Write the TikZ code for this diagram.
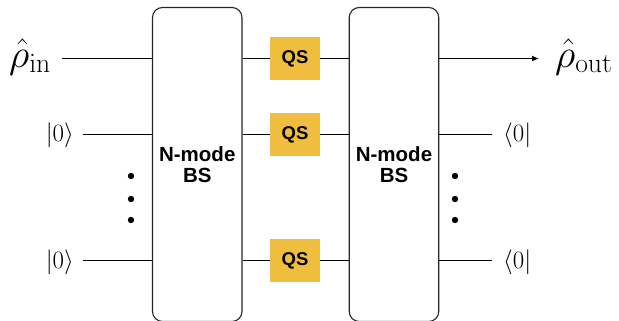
\documentclass[tikz,border=0pt]{standalone}
\usepackage[no-math]{fontspec}
\newfontfamily\lsans{Liberation Sans}
\usetikzlibrary{arrows.meta}
\definecolor{qsyellow}{HTML}{F0BE3E}
\begin{document}
\begin{tikzpicture}[x=1pt,y=-1pt,
  wire/.style={line width=1.1pt,draw=black},
  bsbox/.style={draw=black!85,line width=1.1pt,rounded corners=10pt,minimum width=89.5pt,minimum height=314pt,inner sep=0pt,align=center,font=\lsans\bfseries\fontsize{20.5}{22}\selectfont},
  qsbox/.style={fill=qsyellow,minimum width=50pt,minimum height=43pt,inner sep=0pt,font=\lsans\bfseries\fontsize{18.5}{20}\selectfont},
  ketlabel/.style={inner sep=0pt,font=\fontsize{24}{28}\selectfont},
  rholabel/.style={inner sep=0pt,font=\fontsize{24}{28}\selectfont},
  vdot/.style={circle,fill=black,inner sep=0pt,minimum size=6.4pt}]
\useasboundingbox (0,0) rectangle (619,321);
% beam splitters
\node[bsbox] (bs1) at (197.25,164.5) {N-mode\\[-1pt]BS};
\node[bsbox] (bs2) at (394,164.5) {N-mode\\[-1pt]BS};
% quantum scissors
\node[qsbox] (qs1) at (295,58.5) {QS};
\node[qsbox] (qs2) at (295,134.5) {QS};
\node[qsbox] (qs3) at (295,260.5) {QS};
% labels
\node[rholabel,anchor=base west] (rin) at (9,67) {\scalebox{1.6}{$\hat{\rho}_{\mathrm{in}}$}};
\node[rholabel,anchor=base west] (rout) at (555,67) {\scalebox{1.6}{$\hat{\rho}_{\mathrm{out}}$}};
\node[ketlabel,anchor=base east] (k1) at (74,142) {$|0\rangle$};
\node[ketlabel,anchor=base east] (k2) at (74,268) {$|0\rangle$};
\node[ketlabel,anchor=base west] (b1) at (503,142) {$\langle0|$};
\node[ketlabel,anchor=base west] (b2) at (503,268) {$\langle0|$};
% wire end points
\coordinate (inA) at (62,58.5);
\coordinate (inB) at (83,134.5);
\coordinate (inC) at (83,260.5);
\coordinate (outA) at (539,58.5);
\coordinate (outB) at (492,134.5);
\coordinate (outC) at (492,260.5);
% wires
\draw[wire] (inA) -- (inA -| bs1.west);
\draw[wire] (inB) -- (inB -| bs1.west);
\draw[wire] (inC) -- (inC -| bs1.west);
\draw[wire] (qs1.west -| bs1.east) -- (qs1.west);
\draw[wire] (qs2.west -| bs1.east) -- (qs2.west);
\draw[wire] (qs3.west -| bs1.east) -- (qs3.west);
\draw[wire] (qs1.east) -- (qs1.east -| bs2.west);
\draw[wire] (qs2.east) -- (qs2.east -| bs2.west);
\draw[wire] (qs3.east) -- (qs3.east -| bs2.west);
\draw[wire,-{Latex[length=7pt,width=6pt]}] (outA -| bs2.east) -- (outA);
\draw[wire] (outB -| bs2.east) -- (outB);
\draw[wire] (outC -| bs2.east) -- (outC);
% dots
\node[vdot] (d1) at (131,176) {};
\node[vdot] (d2) at (131,199) {};
\node[vdot] (d3) at (131,220) {};
\node[vdot] (d4) at (455,176) {};
\node[vdot] (d5) at (455,199) {};
\node[vdot] (d6) at (455,220) {};
\end{tikzpicture}
\end{document}
